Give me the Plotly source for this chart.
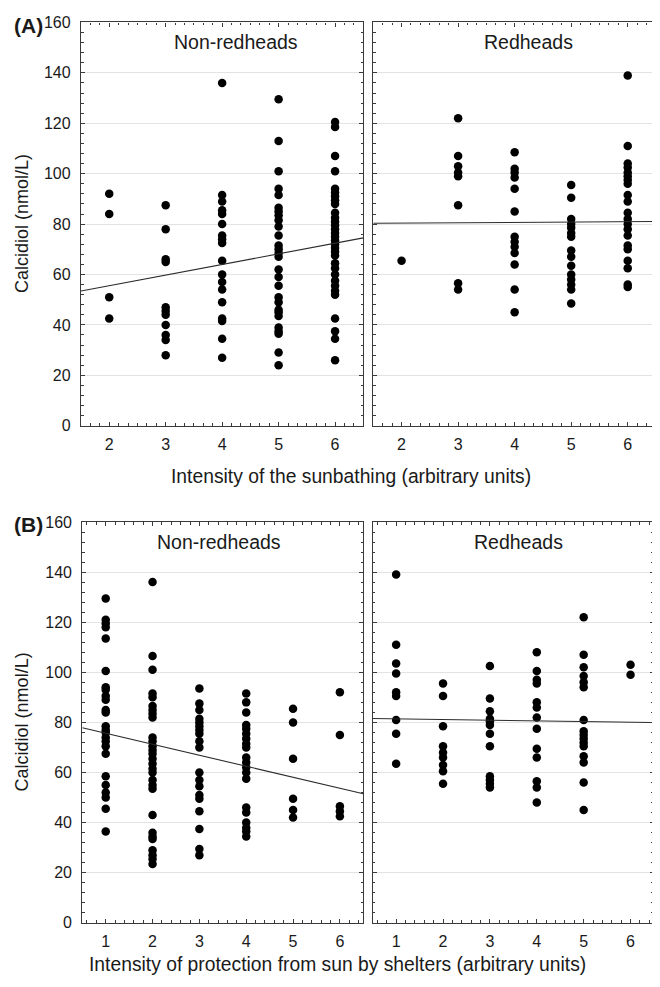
import plotly.graph_objects as go
import numpy as np

# ---------------- data ----------------
# Panel A: intensity of sunbathing, non-redheads
a_non_2 = [92, 84, 51, 42.5]
a_non_3 = [87.5, 78, 66, 65, 47, 45.5, 44, 40, 36, 34, 28]
a_non_4 = [136, 91.5, 89, 85.5, 84, 80, 75.5, 74, 72.5, 65.5, 60, 57, 54, 49, 42.5, 41.5, 34.5, 27]
a_non_5 = [129.5, 113, 101, 94, 91.5, 86.5, 85, 83.5, 81.5, 79, 75.5, 71.5, 70, 68.5, 67, 62, 59, 55.5,
           51, 49, 46, 45, 43.5, 39, 37.5, 36.5, 29, 24]
a_non_6 = [120.5, 118.5, 107, 101, 94, 92.5, 91, 89.5, 88, 84.5, 82.5, 81, 79.5, 78, 76.5, 75, 73.5, 72,
           70.5, 69, 67.5, 64.5, 62.5, 60, 57.5, 55.5, 53.5, 52, 42.5, 37.5, 34.5, 26]
# Panel A: redheads
a_red_2 = [65.5]
a_red_3 = [122, 107, 103, 100.5, 99, 87.5, 56.5, 54]
a_red_4 = [108.5, 102, 100.5, 98.5, 94, 85, 75, 73, 71, 68.5, 64, 54, 45]
a_red_5 = [95.5, 90.5, 82, 80, 78.5, 76.5, 75, 69.5, 67, 63.5, 60, 58, 56, 54, 48.5]
a_red_6 = [139, 111, 104, 102.5, 100.5, 99, 97.5, 96, 91.5, 89, 84.5, 82, 80, 78, 75.5, 71.5, 70,
           65.5, 62.5, 56, 55]
# Panel B: intensity of protection from sun by shelters, non-redheads
b_non_1 = [129.5, 121, 119.5, 118, 113.5, 100.5, 94, 93, 90.5, 89, 85, 84, 78.5, 77, 76, 74, 72.5, 70.5,
           67.5, 58.5, 55, 52, 50, 45.5, 36.5]
b_non_2 = [136, 106.5, 101, 91.5, 90, 86.5, 85, 83.5, 82, 74, 72.5, 70.5, 69, 67.5, 65.5, 63.5, 61.5,
           60, 57, 55, 53.5, 43, 36, 34.5, 33.5, 29, 27, 25.5, 23.5]
b_non_3 = [93.5, 87.5, 85, 81.5, 80, 78.5, 77, 75.5, 72.5, 70, 60, 57, 54.5, 51, 49.5, 44.5, 37.5, 29.5, 27]
b_non_4 = [91.5, 88, 84, 79, 77.5, 75.5, 73.5, 71.5, 70, 66, 64, 62, 60, 57.5, 46, 44, 40, 38, 36.5, 34.5]
b_non_5 = [85.5, 80, 65.5, 49.5, 45, 42]
b_non_6 = [92, 75, 46.5, 44.5, 42.5]
# Panel B: redheads
b_red_1 = [139, 111, 103.5, 99.5, 92, 90.5, 81, 75.5, 63.5]
b_red_2 = [95.5, 90.5, 78.5, 70.5, 68, 66, 63, 60.5, 55.5]
b_red_3 = [102.5, 89.5, 84.5, 81.5, 80.5, 79, 75.5, 70.5, 58.5, 57, 55.5, 54]
b_red_4 = [108, 100.5, 97, 95.5, 88, 86, 82, 77.5, 69.5, 66, 56.5, 54, 48]
b_red_5 = [122, 107, 102, 98.5, 96, 94, 81, 76.5, 75, 73.5, 72, 70.5, 66.5, 64, 56, 45]
b_red_6 = [103, 99]

# regression lines (intercept, slope)
fit_a_non = [47.1, 4.22]
fit_a_red = [80.1, 0.14]
fit_b_non = [80.1, -4.4]
fit_b_red = [81.7, -0.27]

y_ticks = [0, 20, 40, 60, 80, 100, 120, 140, 160]
a_levels = [2, 3, 4, 5, 6]
b_levels = [1, 2, 3, 4, 5, 6]

panel_titles = ["Non-redheads", "Redheads", "Non-redheads", "Redheads"]
x_title_a = "Intensity of the sunbathing (arbitrary units)"
x_title_b = "Intensity of protection from sun by shelters (arbitrary units)"
y_title = "Calcidiol (nmol/L)"

# ---------------- figure ----------------
# the page body keeps its default 8px margin, so the figure is made that much
# smaller and every screen position is mapped through that offset
OFF = 8
W, H = 660 - OFF, 987 - 2 * OFF
FONT = "Liberation Sans, Arial, sans-serif"

def px(x):
    return (x - OFF) / W

def py(y):
    return 1 - (y - OFF) / H

def stack(levels, groups):
    xs, ys = [], []
    for lv, g in zip(levels, groups):
        xs += [lv] * len(g)
        ys += list(g)
    return xs, ys

panels = [
    dict(levels=a_levels, groups=[a_non_2, a_non_3, a_non_4, a_non_5, a_non_6], fit=fit_a_non,
         xr=[1.5, 6.5], xd=[px(81), px(363.3)], yd=[py(425), py(14.6)], minor=1 / 6),
    dict(levels=a_levels, groups=[a_red_2, a_red_3, a_red_4, a_red_5, a_red_6], fit=fit_a_red,
         xr=[1.5, 6.5], xd=[px(373.3), px(656)], yd=[py(425), py(14.6)], minor=1 / 6),
    dict(levels=b_levels, groups=[b_non_1, b_non_2, b_non_3, b_non_4, b_non_5, b_non_6], fit=fit_b_non,
         xr=[0.5, 6.5], xd=[px(82.3), px(363.3)], yd=[py(931), py(523)], minor=0.2),
    dict(levels=b_levels, groups=[b_red_1, b_red_2, b_red_3, b_red_4, b_red_5, b_red_6], fit=fit_b_red,
         xr=[0.5, 6.5], xd=[px(372.7), px(654)], yd=[py(931), py(523)], minor=0.2),
]

fig = go.Figure()
layout = dict(
    width=W, height=H, margin=dict(l=0, r=0, t=0, b=0),
    paper_bgcolor="white", plot_bgcolor="white", showlegend=False,
    font=dict(family=FONT, color="#1a1a1a", size=16),
)

for i, p in enumerate(panels):
    n = i + 1
    xa = "x" if n == 1 else f"x{n}"
    ya = "y" if n == 1 else f"y{n}"
    xs, ys = stack(p["levels"], p["groups"])
    fig.add_trace(go.Scatter(x=xs, y=ys, mode="markers", xaxis=xa, yaxis=ya,
                             marker=dict(color="black", size=8.5, line=dict(width=0)),
                             hoverinfo="skip"))
    b0, b1 = p["fit"]
    lx = np.array(p["xr"], dtype=float)
    fig.add_trace(go.Scatter(x=lx, y=b0 + b1 * lx, mode="lines", xaxis=xa, yaxis=ya,
                             line=dict(color="#2b2b2b", width=1.1), hoverinfo="skip"))
    axis_common = dict(showline=True, linecolor="#3a3a3a", linewidth=1.3, mirror="allticks",
                       ticks="inside", ticklen=4, tickcolor="#3a3a3a", zeroline=False,
                       tickfont=dict(size=16, family=FONT, color="#1a1a1a"))
    layout["xaxis" if n == 1 else f"xaxis{n}"] = dict(
        domain=p["xd"], range=p["xr"], anchor=ya, tickmode="array", tickvals=p["levels"],
        showgrid=False, ticklabelstandoff=4,
        minor=dict(ticks="inside", ticklen=2.5, dtick=p["minor"], tick0=0, tickcolor="#3a3a3a",
                   showgrid=False),
        **axis_common)
    layout["yaxis" if n == 1 else f"yaxis{n}"] = dict(
        domain=p["yd"], range=[0, 160], anchor=xa, tickmode="array", tickvals=y_ticks,
        showgrid=True, gridcolor="#e3e3e3", gridwidth=1, showticklabels=(n in (1, 3)),
        ticklabelstandoff=6,
        minor=dict(ticks="inside", ticklen=2.5, dtick=4, tick0=0, tickcolor="#3a3a3a",
                   showgrid=False),
        **axis_common)

fig.update_layout(**layout)

annots = [
    dict(text="<b>(A)</b>", x=px(28.5), y=py(18), size=21),
    dict(text="<b>(B)</b>", x=px(28.5), y=py(526), size=21),
    dict(text=panel_titles[0], x=px(236), y=py(34), size=19.5),
    dict(text=panel_titles[1], x=px(528), y=py(34), size=19.5),
    dict(text=panel_titles[2], x=px(219), y=py(543), size=19.5),
    dict(text=panel_titles[3], x=px(518), y=py(543), size=19.5),
    dict(text=x_title_a, x=px(351), y=py(477), size=19.3),
    dict(text=x_title_b, x=px(337), y=py(973), size=19.3),
]
for a in annots:
    fig.add_annotation(text=a["text"], x=a["x"], y=a["y"], xref="paper", yref="paper",
                       xanchor="center", yanchor="middle", showarrow=False,
                       font=dict(size=a["size"], family=FONT, color="#1a1a1a"))
for yc in [(425 + 14.6) / 2, (931 + 523) / 2]:
    fig.add_annotation(text=y_title, x=px(22), y=py(yc), xref="paper", yref="paper",
                       xanchor="center", yanchor="middle", showarrow=False, textangle=-90,
                       font=dict(size=18, family=FONT, color="#1a1a1a"))

fig.write_html("out.html")
